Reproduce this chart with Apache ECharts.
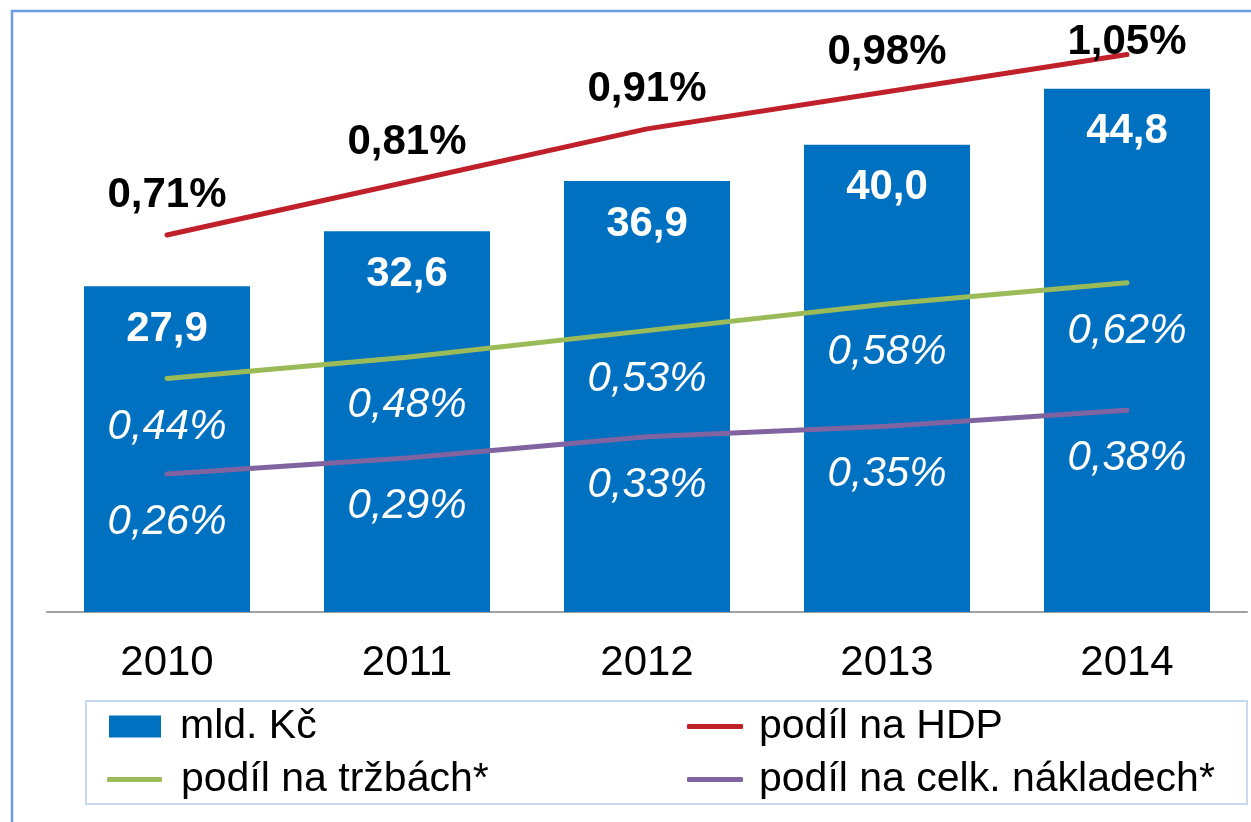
<!DOCTYPE html>
<html>
<head>
<meta charset="utf-8">
<script src="https://cdn.jsdelivr.net/npm/echarts@6/dist/echarts.min.js"></script>
<style>
  html, body { margin: 0; padding: 0; background: #fff; }
  #chart { width: 1251px; height: 822px; }
</style>
</head>
<body>
<div id="chart"></div>
<script>
const years = ['2010', '2011', '2012', '2013', '2014']
const mldKc = [27.9, 32.6, 36.9, 40.0, 44.8]
const podilHdp = [0.71, 0.81, 0.91, 0.98, 1.05]
const podilTrzby = [0.44, 0.48, 0.53, 0.58, 0.62]
const podilNaklady = [0.26, 0.29, 0.33, 0.35, 0.38]

const FONT = '"Liberation Sans", Arial, sans-serif'
const comma = (v, d) => v.toFixed(d).replace('.', ',')

const chart = echarts.init(document.getElementById('chart'))

// poslední popisek HDP je v originále stažený dolů k čáře
const hdpData = podilHdp.map((v, i) => i === podilHdp.length - 1
  ? { value: v, label: { distance: -9 } }
  : v)

const legendText = { fontFamily: FONT, fontSize: 41, color: '#000', lineHeight: 40, padding: [0, 0, 0, 14] }
const legendTextRight = { ...legendText, padding: [0, 0, 0, 11] }
const legendBase = { orient: 'horizontal', padding: 0, itemWidth: 52, itemHeight: 22, selectedMode: false, textStyle: legendText }
const lineLegend = { ...legendBase, itemHeight: 5 }

const lineSeries = (name, data, color, label) => ({
  name,
  type: 'line',
  yAxisIndex: 1,
  data,
  symbol: 'circle',
  symbolSize: 1,
  showSymbol: true,
  lineStyle: { color, width: 5, cap: 'round' },
  itemStyle: { color },
  label: {
    show: true,
    fontFamily: FONT,
    fontSize: 42,
    formatter: p => comma(p.value, 2) + '%',
    ...label
  }
})

const option = {
  animation: false,
  backgroundColor: '#fff',
  grid: { left: 47, right: 4, top: 28, bottom: 210 },
  xAxis: {
    type: 'category',
    data: years,
    axisTick: { show: false },
    axisLine: { lineStyle: { color: '#a0a0a0', width: 2 } },
    axisLabel: { fontFamily: FONT, fontSize: 42, color: '#000', margin: 30 }
  },
  yAxis: [
    { type: 'value', min: 0, max: 50, show: false, splitLine: { show: false } },
    { type: 'value', min: 0, max: 1.1, show: false, splitLine: { show: false } }
  ],
  legend: [
    { ...legendBase, left: 109, top: 706, data: [{ name: 'mld. Kč', icon: 'rect' }] },
    { ...lineLegend, left: 107, top: 759, itemWidth: 55, data: [{ name: 'podíl na tržbách*', icon: 'roundRect' }] },
    { ...lineLegend, left: 687, top: 706, itemWidth: 56, textStyle: legendTextRight, data: [{ name: 'podíl na HDP', icon: 'roundRect' }] },
    { ...lineLegend, left: 687, top: 759, itemWidth: 56, textStyle: legendTextRight, data: [{ name: 'podíl na celk. nákladech*', icon: 'roundRect' }] }
  ],
  graphic: [
    {
      type: 'rect',
      shape: { x: 12, y: 11, width: 1300, height: 900 },
      style: { fill: 'none', stroke: '#6b9de2', lineWidth: 2.5 },
      silent: true
    },
    {
      type: 'rect',
      shape: { x: 86, y: 701, width: 1161, height: 103 },
      style: { fill: 'none', stroke: '#c6d9f1', lineWidth: 2 },
      silent: true
    }
  ],
  series: [
    {
      name: 'mld. Kč',
      type: 'bar',
      data: mldKc,
      barWidth: 166,
      itemStyle: { color: '#0070c0' },
      label: {
        show: true,
        position: 'insideTop',
        distance: 22,
        fontFamily: FONT,
        fontSize: 42,
        fontWeight: 'bold',
        color: '#fff',
        formatter: p => comma(p.value, 1)
      }
    },
    lineSeries('podíl na HDP', hdpData, '#c0202a',
      { position: 'top', distance: 18, fontWeight: 'bold', color: '#000' }),
    lineSeries('podíl na tržbách*', podilTrzby, '#9bbb59',
      { position: 'bottom', distance: 27, fontStyle: 'italic', color: '#fff' }),
    lineSeries('podíl na celk. nákladech*', podilNaklady, '#8064a2',
      { position: 'bottom', distance: 27, fontStyle: 'italic', color: '#fff' })
  ]
}

chart.setOption(option)
</script>
</body>
</html>
